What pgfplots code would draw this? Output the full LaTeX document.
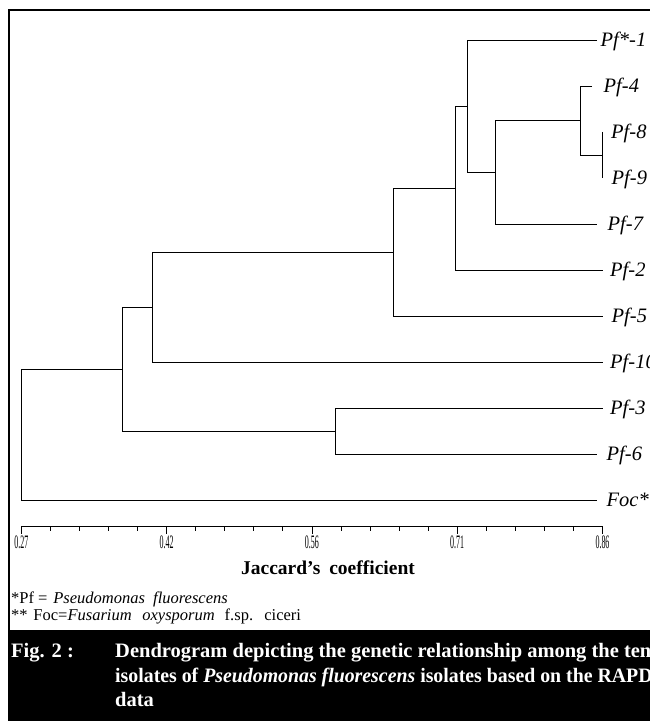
\documentclass[border=0pt]{standalone}
\usepackage{fontspec}
\setmainfont{Liberation Serif}
\usepackage{graphicx}
\usepackage{pgfplots}
\pgfplotsset{compat=1.18}
\newcommand{\tl}[1]{\scalebox{0.42}[1]{\fontsize{19}{19}\selectfont #1}}
\begin{document}
\begin{tikzpicture}[x=1pt,y=1pt]
\useasboundingbox (0,0) rectangle (650,721);
\clip (0,0) rectangle (650,721);
% caption box and frame
\fill[black] (8,0) rectangle (650,91);
\draw[line width=2.2pt] (9.3,0) -- (9.3,711.2) -- (660,711.2);
\begin{axis}[
  at={(21.3pt,195pt)}, anchor=south west,
  scale only axis, width=581.2pt, height=509pt,
  xmin=0.27, xmax=0.86, ymin=-0.5652, ymax=10.5,
  axis x line=bottom, axis y line=none,
  axis line style={-, line width=0.8pt},
  x axis line style={-},
  clip=false,
  xtick={0.27,0.4175,0.565,0.7125,0.86},
  xticklabels={\tl{0.27},\tl{0.42},\tl{0.56},\tl{0.71},\tl{0.86}},
  xticklabel style={inner sep=1pt, yshift=-1pt},
  minor x tick num=4,
  xtick align=outside,
  major tick length=8pt, minor tick length=5pt,
  every tick/.style={black, line width=0.8pt},
  ytick=\empty,
]
% dendrogram (x = Jaccard coefficient, y = leaf position)
\addplot[black, line width=0.8pt] coordinates {(0.86,8) (0.86,7)};
\addplot[black, line width=0.8pt] coordinates {(0.8495,9) (0.8371,9) (0.8371,7.5) (0.86,7.5)};
\addplot[black, line width=0.8pt] coordinates {(0.8371,8.25) (0.7509,8.25) (0.7509,6) (0.8545,6)};
\addplot[black, line width=0.8pt] coordinates {(0.8545,10) (0.7227,10) (0.7227,7.125) (0.7509,7.125)};
\addplot[black, line width=0.8pt] coordinates {(0.7227,8.5625) (0.7106,8.5625) (0.7106,5) (0.86,5)};
\addplot[black, line width=0.8pt] coordinates {(0.7106,6.78125) (0.6476,6.78125) (0.6476,4) (0.86,4)};
\addplot[black, line width=0.8pt] coordinates {(0.6476,5.390625) (0.4030,5.390625) (0.4030,3) (0.86,3)};
\addplot[black, line width=0.8pt] coordinates {(0.86,2) (0.5884,2) (0.5884,1) (0.8545,1)};
\addplot[black, line width=0.8pt] coordinates {(0.4030,4.1953) (0.3725,4.1953) (0.3725,1.5) (0.5884,1.5)};
\addplot[black, line width=0.8pt] coordinates {(0.3725,2.8477) (0.27,2.8477) (0.27,0) (0.8545,0)};
% leaf labels
\begin{scope}[every node/.style={anchor=base west, inner sep=0pt, yshift=-6.5pt, font=\fontsize{20.5}{20.5}\selectfont\itshape}]
\node[xshift=-2pt] at (axis cs:0.86,10) {Pf*-1};
\node[xshift=1pt] at (axis cs:0.86,9) {Pf-4};
\node[xshift=8.5pt] at (axis cs:0.86,8) {Pf-8};
\node[xshift=9pt] at (axis cs:0.86,7) {Pf-9};
\node[xshift=5pt] at (axis cs:0.86,6) {Pf-7};
\node[xshift=7.5pt] at (axis cs:0.86,5) {Pf-2};
\node[xshift=9pt] at (axis cs:0.86,4) {Pf-5};
\node[xshift=7.5pt] at (axis cs:0.86,3) {Pf-10};
\node[xshift=7.5pt] at (axis cs:0.86,2) {Pf-3};
\node[xshift=4pt] at (axis cs:0.86,1) {Pf-6};
\node[xshift=4pt] at (axis cs:0.86,0) {Foc**};
\end{scope}
\end{axis}
% axis title
\node[anchor=base, inner sep=0pt, font=\fontsize{19.5}{19.5}\selectfont\bfseries] at (328,146) {Jaccard’s\hspace{0.2em} coefficient};
% footnotes
\node[anchor=base west, inner sep=0pt, font=\fontsize{16.5}{16.5}\selectfont] at (11,117) {*Pf =\hspace{0.1em} \textit{Pseudomonas\hspace{0.25em} fluorescens}};
\node[anchor=base west, inner sep=0pt, font=\fontsize{16.5}{16.5}\selectfont] at (11,100) {**\hspace{0.1em} Foc=\textit{Fusarium\hspace{0.4em} oxysporum}\hspace{0.35em} f.sp.\hspace{0.35em} ciceri};
% caption
\begin{scope}[every node/.style={anchor=base west, inner sep=0pt, text=white, font=\fontsize{20.5}{20.5}\selectfont\bfseries}]
\node at (11,63) {Fig. 2 :};
\node at (115,63) {Dendrogram depicting the genetic relationship among the ten};
\node at (115,38) {\scalebox{0.967}[1]{isolates of \textit{Pseudomonas fluorescens} isolates based on the RAPD}};
\node at (115,14) {data};
\end{scope}
\end{tikzpicture}
\end{document}
